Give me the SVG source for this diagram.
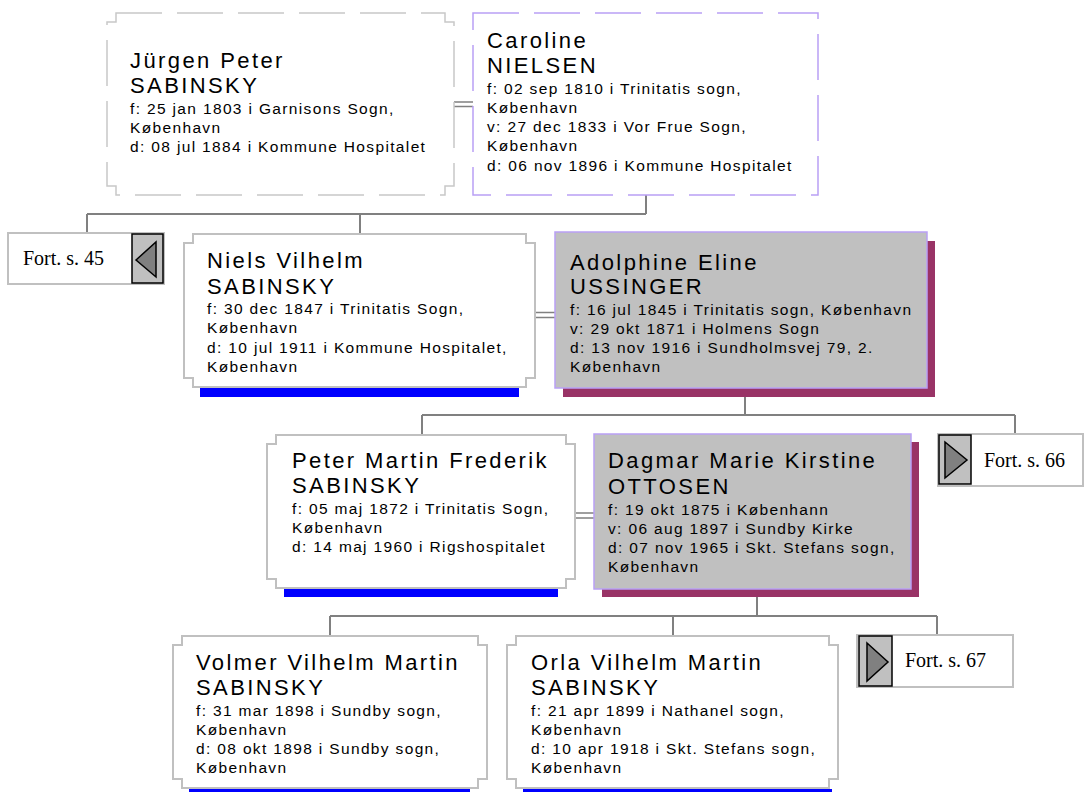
<svg xmlns="http://www.w3.org/2000/svg" width="1089" height="792" viewBox="0 0 1089 792">
<style>
.bg{fill:#ffffff}
.conn{stroke:#808080;stroke-width:2;fill:none}
.marr{stroke:#808080;stroke-width:1.5;fill:none}
.dashg{fill:#ffffff;stroke:#c8c8c8;stroke-width:1.5;stroke-dasharray:46 15}
.dashl{fill:#ffffff;stroke:#b9a0f5;stroke-width:1.5;stroke-dasharray:46 15}
.notch{fill:#ffffff;stroke:#c0c0c0;stroke-width:2}
.grey{fill:#c0c0c0;stroke:#b9a0f5;stroke-width:1.5}
.shadow{fill:#993366}
.blue{fill:#0000ff}
.fbox{fill:#ffffff;stroke:#c0c0c0;stroke-width:2}
.btn{fill:#c0c0c0;stroke:#000000;stroke-width:1.5}
.tri{fill:#808080;stroke:#000000;stroke-width:1.5}
.nm{font-family:"Liberation Sans",Arial,sans-serif;font-size:22px;letter-spacing:2.4px;fill:#000000}
.sm{font-family:"Liberation Sans",Arial,sans-serif;font-size:15.5px;letter-spacing:1.35px;fill:#000000}
.fort{font-family:"Liberation Serif","Times New Roman",serif;font-size:20px;fill:#000000}
</style>
<rect class="bg" x="0" y="0" width="1089" height="792"/>
<g id="connectors">
<path class="conn" d="M646,195 V214 M87,214 H646 M87,214 V233 M360,214 V234"/>
<path class="conn" d="M745,397 V415 M422,415 H1015 M422,415 V435 M1015,415 V434"/>
<path class="conn" d="M757,597 V616 M330,616 H937 M330,616 V636 M673,616 V636 M937,616 V635"/>
<path class="marr" d="M454,102 H473 M454,106.5 H473"/>
<path class="marr" d="M535,312.5 H555 M535,317.5 H555"/>
<path class="marr" d="M575,513 H594 M575,518 H594"/>
</g>
<g id="n-jurgen">
<path class="dashg" d="M116,13 H445 V22 H454 V186 H445 V195 H116 V186 H107 V22 H116 Z"/>
<text class="nm"><tspan x="130" y="68">Jürgen Peter</tspan><tspan x="130" y="93">SABINSKY</tspan></text>
<text class="sm"><tspan x="130" y="114">f: 25 jan 1803 i Garnisons Sogn,</tspan><tspan x="130" y="133">København</tspan><tspan x="130" y="152">d: 08 jul 1884 i Kommune Hospitalet</tspan></text>
</g>
<g id="n-caroline">
<rect class="dashl" x="473" y="13" width="345" height="182"/>
<text class="nm"><tspan x="487" y="48">Caroline</tspan><tspan x="487" y="73">NIELSEN</tspan></text>
<text class="sm"><tspan x="487" y="94">f: 02 sep 1810 i Trinitatis sogn,</tspan><tspan x="487" y="113">København</tspan><tspan x="487" y="132">v: 27 dec 1833 i Vor Frue Sogn,</tspan><tspan x="487" y="151">København</tspan><tspan x="487" y="171">d: 06 nov 1896 i Kommune Hospitalet</tspan></text>
</g>
<g id="fort45">
<rect class="fbox" x="8" y="233" width="156" height="51"/>
<rect class="btn" x="132" y="234" width="31" height="49"/>
<polygon class="tri" points="136,260 156,242 156,277"/>
<text class="fort" x="23" y="265">Fort. s. 45</text>
</g>
<g id="n-niels">
<rect class="blue" x="200" y="388" width="319" height="9"/>
<path class="notch" d="M193,234 H526 V243 H535 V378 H526 V387 H193 V378 H184 V243 H193 Z"/>
<text class="nm"><tspan x="207" y="268">Niels Vilhelm</tspan><tspan x="207" y="294">SABINSKY</tspan></text>
<text class="sm"><tspan x="207" y="314">f: 30 dec 1847 i Trinitatis Sogn,</tspan><tspan x="207" y="333">København</tspan><tspan x="207" y="353">d: 10 jul 1911 i Kommune Hospitalet,</tspan><tspan x="207" y="372">København</tspan></text>
</g>
<g id="n-adolphine">
<rect class="shadow" x="563" y="241" width="372" height="156"/>
<rect class="grey" x="555" y="232" width="372" height="156"/>
<text class="nm"><tspan x="570" y="270">Adolphine Eline</tspan><tspan x="570" y="294">USSINGER</tspan></text>
<text class="sm"><tspan x="570" y="315">f: 16 jul 1845 i Trinitatis sogn, København</tspan><tspan x="570" y="334">v: 29 okt 1871 i Holmens Sogn</tspan><tspan x="570" y="353">d: 13 nov 1916 i Sundholmsvej 79, 2.</tspan><tspan x="570" y="372">København</tspan></text>
</g>
<g id="n-peter">
<rect class="blue" x="284" y="589" width="274" height="8"/>
<path class="notch" d="M276,435 H566 V444 H575 V579 H566 V588 H276 V579 H267 V444 H276 Z"/>
<text class="nm"><tspan x="292" y="468">Peter Martin Frederik</tspan><tspan x="292" y="493">SABINSKY</tspan></text>
<text class="sm"><tspan x="292" y="514">f: 05 maj 1872 i Trinitatis Sogn,</tspan><tspan x="292" y="533">København</tspan><tspan x="292" y="552">d: 14 maj 1960 i Rigshospitalet</tspan></text>
</g>
<g id="n-dagmar">
<rect class="shadow" x="602" y="442" width="317" height="155"/>
<rect class="grey" x="594" y="434" width="317" height="155"/>
<text class="nm"><tspan x="608" y="468">Dagmar Marie Kirstine</tspan><tspan x="608" y="494">OTTOSEN</tspan></text>
<text class="sm"><tspan x="608" y="515">f: 19 okt 1875 i Københann</tspan><tspan x="608" y="534">v: 06 aug 1897 i Sundby Kirke</tspan><tspan x="608" y="553">d: 07 nov 1965 i Skt. Stefans sogn,</tspan><tspan x="608" y="572">København</tspan></text>
</g>
<g id="fort66">
<rect class="fbox" x="938" y="434" width="145" height="52"/>
<rect class="btn" x="939" y="435" width="32" height="49"/>
<polygon class="tri" points="945,442 967,460 945,478"/>
<text class="fort" x="984" y="467">Fort. s. 66</text>
</g>
<g id="n-volmer">
<rect class="blue" x="189" y="789" width="281" height="8"/>
<path class="notch" d="M182,636 H478 V645 H487 V779 H478 V788 H182 V779 H173 V645 H182 Z"/>
<text class="nm"><tspan x="196" y="670">Volmer Vilhelm Martin</tspan><tspan x="196" y="695">SABINSKY</tspan></text>
<text class="sm"><tspan x="196" y="716">f: 31 mar 1898 i Sundby sogn,</tspan><tspan x="196" y="735">København</tspan><tspan x="196" y="754">d: 08 okt 1898 i Sundby sogn,</tspan><tspan x="196" y="773">København</tspan></text>
</g>
<g id="n-orla">
<rect class="blue" x="523" y="789" width="309" height="8"/>
<path class="notch" d="M516,636 H829 V645 H838 V779 H829 V788 H516 V779 H507 V645 H516 Z"/>
<text class="nm"><tspan x="531" y="670">Orla Vilhelm Martin</tspan><tspan x="531" y="695">SABINSKY</tspan></text>
<text class="sm"><tspan x="531" y="716">f: 21 apr 1899 i Nathanel sogn,</tspan><tspan x="531" y="735">København</tspan><tspan x="531" y="754">d: 10 apr 1918 i Skt. Stefans sogn,</tspan><tspan x="531" y="773">København</tspan></text>
</g>
<g id="fort67">
<rect class="fbox" x="857" y="635" width="156" height="52"/>
<rect class="btn" x="859" y="636" width="33" height="50"/>
<polygon class="tri" points="867,643 888,662 867,681"/>
<text class="fort" x="905" y="667">Fort. s. 67</text>
</g>
</svg>
